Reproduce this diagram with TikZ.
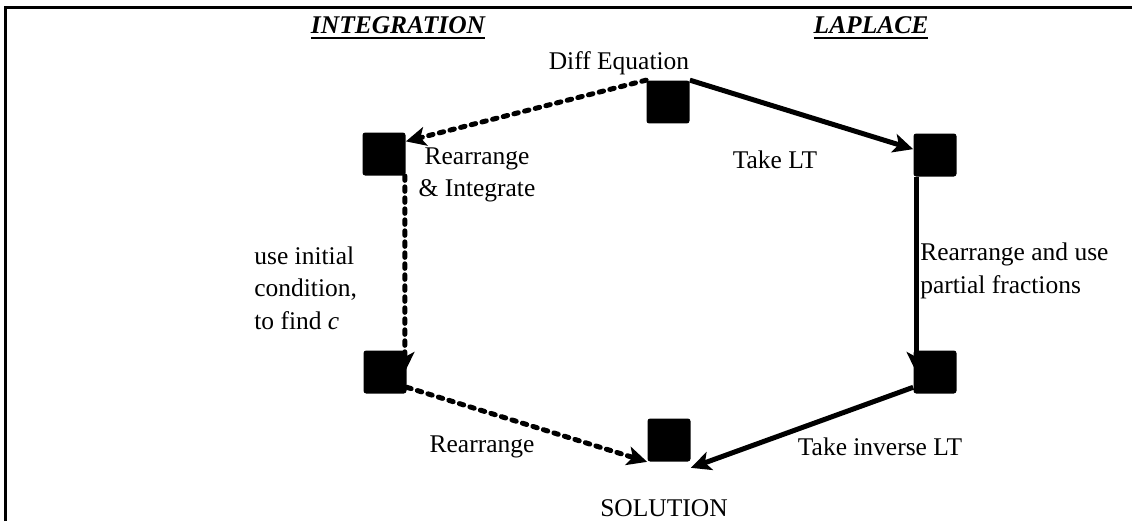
\documentclass[tikz,border=0pt]{standalone}
\usepackage{fontspec}
\setmainfont{Liberation Serif}
\usetikzlibrary{arrows.meta}
\usetikzlibrary{positioning}

\newcommand{\ulhead}[1]{\setbox0\hbox{#1}\rlap{\rule[-3.2pt]{\wd0}{1.1pt}}\box0}

\begin{document}
\begin{tikzpicture}[x=0.02cm,y=-0.02cm,
  box/.style={rectangle,fill=black,rounded corners=1.5pt,minimum size=0.86cm,inner sep=0pt},
  lbl/.style={font=\fontsize{14.5}{18.5}\selectfont,inner sep=0pt},
  head/.style={font=\fontsize{14.5}{18.5}\selectfont\bfseries\itshape,inner sep=0pt},
  laplace/.style={line width=0.1cm,-{Stealth[length=0.4cm,width=0.38cm,inset=0.1cm]}},
  integ/.style={laplace,line cap=round,dash pattern=on 0.09cm off 0.13cm}]
\useasboundingbox (0,0) rectangle (1132,521);
\draw[line width=0.06cm] (5.5,521) -- (5.5,7.5) -- (1132,7.5);

% headings
\node[head] (hint) at (398,28) {\ulhead{INTEGRATION}};
\node[head] (hlap) at (871,28) {\ulhead{LAPLACE}};

% the six steps
\node[box] (de) at (668,102) {};
\node[box] (ri) at (384,154) {};
\node[box] (ic) at (385,372) {};
\node[box] (lt) at (935,155) {};
\node[box] (pf) at (935,372) {};
\node[box] (so) at (669,440) {};

\node[lbl] (tde) at (619,63) {Diff Equation};
\node[lbl] (tso) at (664,508) {SOLUTION};

% integration side
\draw[integ] (de.north west) -- (ri.30);
\draw[integ] ([xshift=-0.02cm]ri.south east) -- ([xshift=-0.04cm]ic.east);
\draw[integ] (ic.-35) -- (so.south west);
\node[lbl,align=center] (tri) at (477,175) {Rearrange\\\& Integrate};
\node[lbl,align=left,anchor=west] (tic) at (254,288) {use initial\\condition,\\to find \textit{c}};
\node[lbl] (trr) at (482,447) {Rearrange};

% laplace side
\draw[laplace] (de.north east) -- (lt.165);
\draw[laplace] ([xshift=0.06cm]lt.south west) -- ([xshift=0.06cm]pf.west);
\draw[laplace] (pf.215) -- ([yshift=-0.12cm]so.south east);
\node[lbl] (tlt) at (775,160) {Take LT};
\node[lbl,align=left,anchor=west] (tpf) at (920,271) {Rearrange and use\\partial fractions};
\node[lbl] (tin) at (880,447) {Take inverse LT};

\end{tikzpicture}
\end{document}
